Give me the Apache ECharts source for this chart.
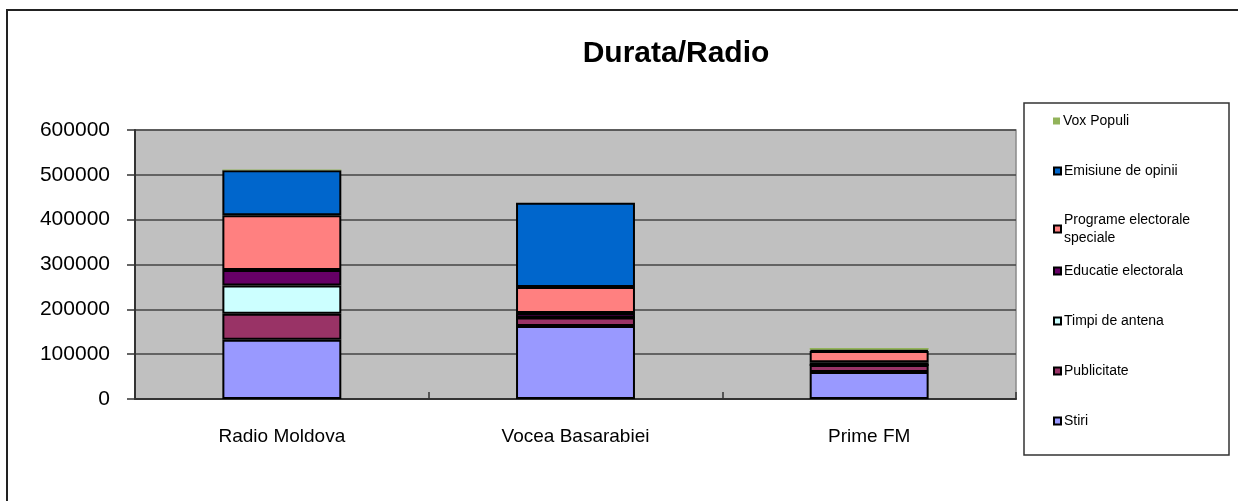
<!DOCTYPE html>
<html>
<head>
<meta charset="utf-8">
<script src="https://cdn.jsdelivr.net/npm/echarts@6/dist/echarts.min.js"></script>
<style>
  html, body { margin: 0; padding: 0; background: #fff; }
  #chart { width: 1238px; height: 501px; }
</style>
</head>
<body>
<div id="chart"></div>
<script>
// categorii (posturi radio)
const categories = ['Radio Moldova', 'Vocea Basarabiei', 'Prime FM']
// durata pe tipuri de emisiuni, de jos in sus
const stiri = [132000, 163000, 60000]
const publicitate = [58000, 19000, 16000]
const timpiDeAntena = [63000, 0, 0]
const educatieElectorala = [35000, 10000, 6000]
const programeSpeciale = [122000, 58000, 25000]
const emisiuneDeOpinii = [100000, 188000, 3000]
const voxPopuli = [2000, 0, 4000]

const seriesNames = ['Stiri', 'Publicitate', 'Timpi de antena', 'Educatie electorala',
  'Programe electorale speciale', 'Emisiune de opinii', 'Vox Populi']
const seriesValues = [stiri, publicitate, timpiDeAntena, educatieElectorala,
  programeSpeciale, emisiuneDeOpinii, voxPopuli]
const seriesColors = ['#9999ff', '#993366', '#ccffff', '#660066', '#ff8080', '#0066cc', '#92b35a']

const yMax = 600000
const yStep = 100000

let chart = echarts.init(document.getElementById('chart'))

// legenda: fiecare element separat, ca in Excel (Vox Populi sus)
const legendCenters = [420, 370, 320, 270, 219, 170, 120]
let legends = seriesNames.map(function (name, i) {
  return {
    left: 1048,
    top: legendCenters[i] - 13,
    orient: 'vertical',
    selectedMode: false,
    icon: 'rect',
    itemWidth: 7,
    itemHeight: 7,
    itemGap: 4,
    data: [name],
    formatter: function (n) {
      return n === 'Programe electorale speciale' ? 'Programe electorale\nspeciale' : n
    },
    textStyle: {
      fontFamily: 'Liberation Sans, Arial, sans-serif',
      fontSize: 14,
      lineHeight: 18,
      color: '#000',
      padding: [0, 0, 0, -2]
    }
  }
})

let series = seriesNames.map(function (name, i) {
  let isVox = name === 'Vox Populi'
  return {
    name: name,
    type: 'bar',
    stack: 'total',
    barWidth: '40.5%',
    data: seriesValues[i],
    itemStyle: {
      color: seriesColors[i],
      borderColor: isVox ? seriesColors[i] : '#000',
      borderWidth: isVox ? 0 : 2
    },
    emphasis: { disabled: true }
  }
})

let option = {
  animation: false,
  backgroundColor: '#fff',
  title: {
    text: 'Durata/Radio',
    left: 671,
    top: 34,
    textAlign: 'center',
    textStyle: {
      fontFamily: 'Liberation Sans, Arial, sans-serif',
      fontSize: 30,
      fontWeight: 'bold',
      color: '#000'
    }
  },
  legend: legends,
  grid: {
    left: 135,
    right: 222,
    top: 130,
    bottom: 102,
    show: true,
    backgroundColor: '#c0c0c0',
    borderColor: '#8a8a8a',
    borderWidth: 1.5
  },
  xAxis: {
    type: 'category',
    data: categories,
    axisLine: { show: true, lineStyle: { color: '#333', width: 2 } },
    axisTick: { show: true, inside: true, length: 7, lineStyle: { color: '#333', width: 1.5 } },
    axisLabel: {
      margin: 28,
      color: '#000',
      fontFamily: 'Liberation Sans, Arial, sans-serif',
      fontSize: 19
    }
  },
  yAxis: {
    type: 'value',
    min: 0,
    max: yMax,
    interval: yStep,
    axisLine: { show: true, lineStyle: { color: '#333', width: 2 } },
    axisTick: { show: true, length: 8, lineStyle: { color: '#333', width: 1.5 } },
    axisLabel: {
      margin: 25,
      color: '#000',
      fontFamily: 'Liberation Sans, Arial, sans-serif',
      fontSize: 21,
      formatter: function (v) { return String(v) }
    },
    splitLine: { show: true, lineStyle: { color: '#444', width: 1.5 } }
  },
  graphic: [
    {
      type: 'rect',
      shape: { x: 7, y: 10, width: 1300, height: 600 },
      style: { fill: null, stroke: '#222', lineWidth: 2 },
      silent: true
    },
    {
      type: 'rect',
      shape: { x: 1024, y: 103, width: 205, height: 352 },
      style: { fill: null, stroke: '#333', lineWidth: 1.5 },
      silent: true
    }
  ],
  series: series
}

chart.setOption(option)
</script>
</body>
</html>
